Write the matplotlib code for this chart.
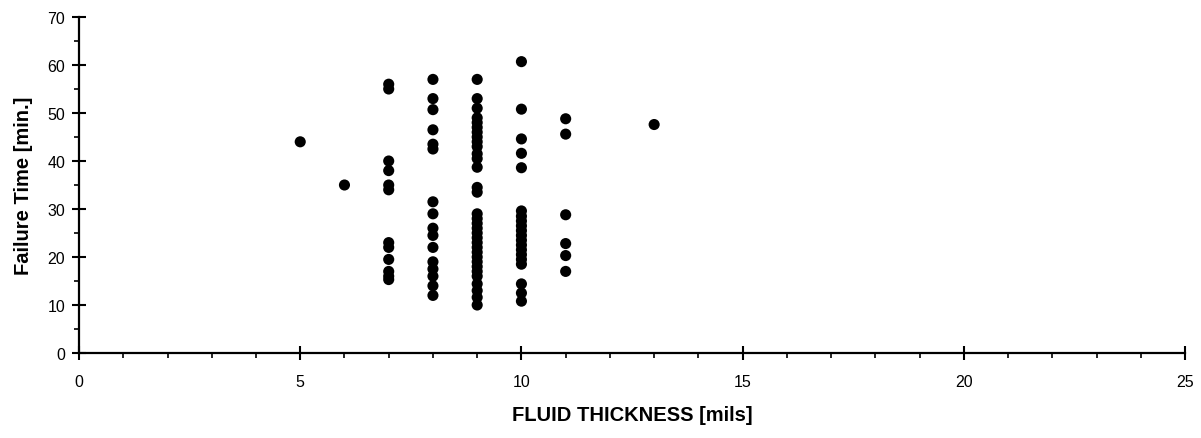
import matplotlib
matplotlib.use("Agg")
import matplotlib.pyplot as plt
from matplotlib.ticker import MultipleLocator

plt.rcParams['font.family'] = ['Liberation Sans', 'DejaVu Sans']

# failure times [min.] grouped by fluid thickness [mils]
times_5 = [44]
times_6 = [35]
times_7 = [56, 55, 40, 38, 35, 34, 23, 22, 19.5, 17, 16, 15.3]
times_8 = [57, 53, 50.7, 46.5, 43.5, 42.5, 31.5, 29, 26, 24.5, 22, 19, 17.5, 16, 14, 12]
times_9 = [57, 53, 51, 49, 48, 47, 46, 45, 44, 43, 41.5, 40.5, 38.7, 34.5, 33.5,
           29, 28, 27, 26, 25, 24, 23, 22, 21, 20, 19, 18, 17, 16,
           14.4, 13, 11.6, 10]
times_10 = [60.7, 50.8, 44.6, 41.6, 38.6, 29.6, 28.5, 27.5, 26.5, 25.5, 24.5,
            23.5, 22.5, 21.5, 20.5, 19.5, 18.5, 14.4, 12.5, 10.8]
times_11 = [48.8, 45.6, 28.8, 22.8, 20.3, 17]
times_13 = [47.6]

groups = {5: times_5, 6: times_6, 7: times_7, 8: times_8, 9: times_9,
          10: times_10, 11: times_11, 13: times_13}

thickness = []
failure_time = []
for mils, times in groups.items():
    thickness += [mils] * len(times)
    failure_time += times

fig = plt.figure(figsize=(12.01, 4.39), dpi=100)
ax = fig.add_axes([0.0658, 0.1936, 0.9209, 0.7654])

ax.scatter(thickness, failure_time, s=64, color='black', edgecolors='none',
           clip_on=False, zorder=3)

ax.set_xlim(0, 25)
ax.set_ylim(0, 70)
ax.xaxis.set_major_locator(MultipleLocator(5))
ax.xaxis.set_minor_locator(MultipleLocator(1))
ax.yaxis.set_major_locator(MultipleLocator(10))
ax.yaxis.set_minor_locator(MultipleLocator(5))

for side in ['top', 'right']:
    ax.spines[side].set_visible(False)
for side in ['left', 'bottom']:
    ax.spines[side].set_linewidth(1.6)
    ax.spines[side].set_color('black')

ax.tick_params(which='major', direction='inout', length=10, width=1.5,
               labelsize=11.5, colors='black')
ax.tick_params(axis='x', which='major', pad=10)
ax.tick_params(axis='y', which='major', pad=5)
ax.tick_params(which='minor', direction='out', length=3.5, width=1.2)

ax.set_xlabel('FLUID THICKNESS [mils]', fontsize=14.5, fontweight='bold')
ax.set_ylabel('Failure Time [min.]', fontsize=14.5, fontweight='bold')
ax.xaxis.set_label_coords(0.5, -0.155)
ax.yaxis.set_label_coords(-0.042, 0.5)

fig.savefig('out.png', dpi=100)
